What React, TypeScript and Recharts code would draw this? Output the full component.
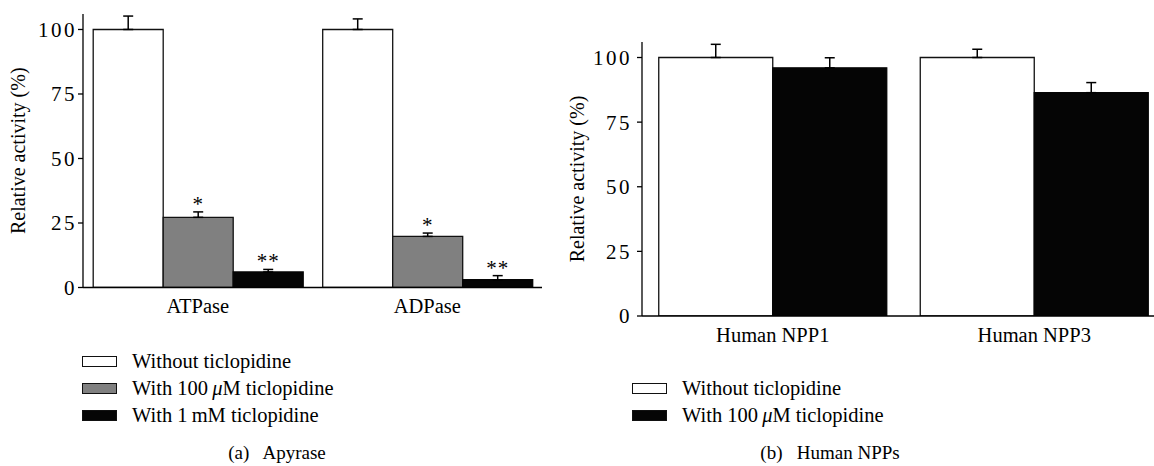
import React from 'react';
import { BarChart, Bar, XAxis, YAxis, ErrorBar, LabelList, Legend } from 'recharts';

const FONT = '"Liberation Serif", "Times New Roman", Times, serif';

// ---- Panel (a): Apyrase ----
const apyraseCategories = ['ATPase', 'ADPase'];
const apyraseWithout = [100, 100];
const apyraseWithoutErr = [5.2, 4.1];
const apyrase100uM = [27.2, 19.8];
const apyrase100uMErr = [2.1, 1.3];
const apyrase1mM = [6.0, 3.0];
const apyrase1mMErr = [1.0, 1.6];
const apyrase100uMSig = ['*', '*'];
const apyrase1mMSig = ['**', '**'];

// ---- Panel (b): Human NPPs ----
const nppCategories = ['Human NPP1', 'Human NPP3'];
const nppWithout = [100, 100];
const nppWithoutErr = [5.1, 3.2];
const npp100uM = [96.0, 86.4];
const npp100uMErr = [3.9, 3.9];

const yTicks = [0, 25, 50, 75, 100];
const yDomain = [0, 106];

const seriesNames = {
  without: 'Without ticlopidine',
  with100: 'With 100\u2009\u03bcM ticlopidine',
  with1mM: 'With 1\u2009mM ticlopidine',
};
const legendOrder = [seriesNames.without, seriesNames.with100, seriesNames.with1mM];

const apyraseData = apyraseCategories.map((name, i) => ({
  name,
  without: apyraseWithout[i],
  withoutErr: [0, apyraseWithoutErr[i]],
  with100: apyrase100uM[i],
  with100Err: [0, apyrase100uMErr[i]],
  with100Sig: apyrase100uMSig[i],
  with1mM: apyrase1mM[i],
  with1mMErr: [0, apyrase1mMErr[i]],
  with1mMSig: apyrase1mMSig[i],
}));

const nppData = nppCategories.map((name, i) => ({
  name,
  without: nppWithout[i],
  withoutErr: [0, nppWithoutErr[i]],
  with100: npp100uM[i],
  with100Err: [0, npp100uMErr[i]],
}));

const renderName = (s: string) => {
  const parts = s.split('\u03bc');
  if (parts.length === 1) return s;
  return (
    <>
      {parts[0]}
      <i>{'\u03bc'}</i>
      {parts[1]}
    </>
  );
};

const renderLegend = (props: any) => {
  const payload = [...(props.payload || [])].sort(
    (a: any, b: any) => legendOrder.indexOf(String(a.value)) - legendOrder.indexOf(String(b.value))
  );
  return (
    <div style={{ fontFamily: FONT, fontSize: 20.5, color: '#000', lineHeight: '27px' }}>
      {payload.map((p: any, i: number) => (
        <div key={i} style={{ display: 'flex', alignItems: 'center', height: 27, whiteSpace: 'nowrap' }}>
          <span
            style={{
              display: 'inline-block',
              width: 35,
              height: 11,
              boxSizing: 'border-box',
              border: '1.4px solid #111',
              background: (p.payload && p.payload.fill) || p.color,
              marginRight: 15,
            }}
          />
          <span>{renderName(String(p.value))}</span>
        </div>
      ))}
    </div>
  );
};

const makeSigLabel = (values: number[], errs: number[]) => (props: any) => {
  const vb = props.viewBox || props;
  const x = vb.x ?? props.x;
  const y = vb.y ?? props.y;
  const width = vb.width ?? props.width;
  const height = vb.height ?? props.height;
  const idx = props.index ?? 0;
  const v = values[idx];
  if (!v || props.value == null) return null;
  const ppu = height / v;
  const capY = y - errs[idx] * ppu;
  return (
    <text
      x={x + width / 2}
      y={capY - 1}
      textAnchor="middle"
      fontFamily={FONT}
      fontSize={21}
      letterSpacing={1}
      fill="#000"
    >
      {props.value}
    </text>
  );
};

const yLabel = (xPos: number) => (props: any) => {
  const vb = props.viewBox || {};
  const cy = vb.y + vb.height / 2;
  return (
    <text
      x={xPos}
      y={cy}
      transform={`rotate(-90, ${xPos}, ${cy})`}
      textAnchor="middle"
      dominantBaseline="central"
      fontFamily={FONT}
      fontSize={20}
      fill="#000"
    >
      Relative activity (%)
    </text>
  );
};

const xTickStyle = { fontFamily: FONT, fontSize: 20.5, fill: '#000' };
const yTickStyle = { fontFamily: FONT, fontSize: 21, fill: '#000', letterSpacing: 2.5 };

export default function App() {
  return (
    <div
      style={{
        position: 'absolute',
        left: 0,
        top: 0,
        width: 1154,
        height: 466,
        overflow: 'hidden',
        background: '#fff',
      }}
    >
      <div style={{ position: 'absolute', left: 0, top: 0 }}>
        <BarChart
          width={560}
          height={466}
          data={apyraseData}
          margin={{ top: 14, right: 18, bottom: 148.5, left: 23 }}
          barCategoryGap={10.2}
          barGap={0}
        >
          <XAxis
            dataKey="name"
            height={30}
            tickLine={false}
            tickSize={0}
            tickMargin={11}
            axisLine={{ stroke: '#000', strokeWidth: 1.3 }}
            tick={xTickStyle}
            interval={0}
          />
          <YAxis
            width={60}
            domain={yDomain}
            ticks={yTicks}
            allowDataOverflow
            tickSize={5}
            tickMargin={1}
            axisLine={{ stroke: '#000', strokeWidth: 1.3 }}
            tickLine={{ stroke: '#000', strokeWidth: 1.3 }}
            tick={yTickStyle}
            label={{ content: yLabel(18) }}
          />
          <Legend
            layout="horizontal"
            verticalAlign="middle"
            align="center"
            content={renderLegend}
            wrapperStyle={{ left: 82, top: 347.5, width: 'auto', height: 'auto' }}
          />
          <Bar
            dataKey="without"
            name={seriesNames.without}
            fill="#ffffff"
            stroke="#111"
            strokeWidth={1.3}
            isAnimationActive={false}
          >
            <ErrorBar dataKey="withoutErr" width={5} stroke="#000" strokeWidth={1.5} direction="y" />
          </Bar>
          <Bar
            dataKey="with100"
            name={seriesNames.with100}
            fill="#808080"
            stroke="#111"
            strokeWidth={1.3}
            isAnimationActive={false}
          >
            <ErrorBar dataKey="with100Err" width={5} stroke="#000" strokeWidth={1.5} direction="y" />
            <LabelList dataKey="with100Sig" content={makeSigLabel(apyrase100uM, apyrase100uMErr)} />
          </Bar>
          <Bar
            dataKey="with1mM"
            name={seriesNames.with1mM}
            fill="#050505"
            stroke="#050505"
            strokeWidth={1.3}
            isAnimationActive={false}
          >
            <ErrorBar dataKey="with1mMErr" width={5} stroke="#000" strokeWidth={1.5} direction="y" />
            <LabelList dataKey="with1mMSig" content={makeSigLabel(apyrase1mM, apyrase1mMErr)} />
          </Bar>
        </BarChart>
      </div>

      <div style={{ position: 'absolute', left: 560, top: 0 }}>
        <BarChart
          width={620}
          height={466}
          data={nppData}
          margin={{ top: 42, right: 15, bottom: 120, left: 22 }}
          barCategoryGap={16.75}
          barGap={0}
        >
          <XAxis
            dataKey="name"
            height={30}
            tickLine={false}
            tickSize={0}
            tickMargin={11}
            axisLine={{ stroke: '#000', strokeWidth: 1.3 }}
            tick={xTickStyle}
            interval={0}
          />
          <YAxis
            width={60}
            domain={yDomain}
            ticks={yTicks}
            allowDataOverflow
            tickSize={5}
            tickMargin={5}
            axisLine={{ stroke: '#000', strokeWidth: 1.3 }}
            tickLine={{ stroke: '#000', strokeWidth: 1.3 }}
            tick={yTickStyle}
            label={{ content: yLabel(17) }}
          />
          <Legend
            layout="horizontal"
            verticalAlign="middle"
            align="center"
            content={renderLegend}
            wrapperStyle={{ left: 72, top: 374.5, width: 'auto', height: 'auto' }}
          />
          <Bar
            dataKey="without"
            name={seriesNames.without}
            fill="#ffffff"
            stroke="#111"
            strokeWidth={1.3}
            isAnimationActive={false}
          >
            <ErrorBar dataKey="withoutErr" width={5} stroke="#000" strokeWidth={1.5} direction="y" />
          </Bar>
          <Bar
            dataKey="with100"
            name={seriesNames.with100}
            fill="#050505"
            stroke="#050505"
            strokeWidth={1.3}
            isAnimationActive={false}
          >
            <ErrorBar dataKey="with100Err" width={5} stroke="#000" strokeWidth={1.5} direction="y" />
          </Bar>
        </BarChart>
      </div>

      <div
        style={{
          position: 'absolute',
          left: 177,
          width: 200,
          top: 442,
          textAlign: 'center',
          fontFamily: FONT,
          fontSize: 19,
          color: '#000',
          whiteSpace: 'pre',
        }}
      >
        {'(a)\u2002 Apyrase'}
      </div>
      <div
        style={{
          position: 'absolute',
          left: 730,
          width: 200,
          top: 442,
          textAlign: 'center',
          fontFamily: FONT,
          fontSize: 19,
          color: '#000',
          whiteSpace: 'pre',
        }}
      >
        {'(b)\u2002 Human NPPs'}
      </div>
    </div>
  );
}
